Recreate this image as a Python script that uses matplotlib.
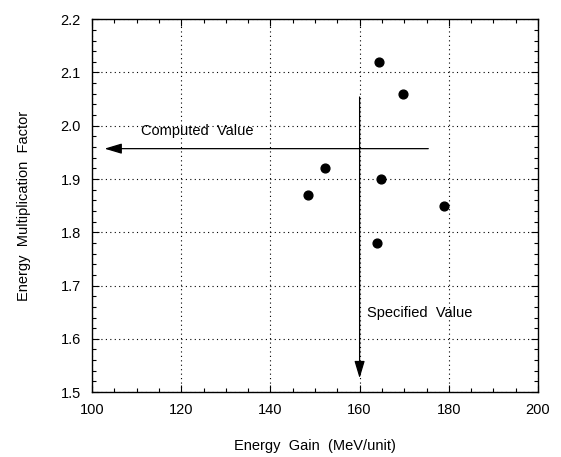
import matplotlib.pyplot as plt
from matplotlib.ticker import MultipleLocator

# measured points
energy_gain = [148.4, 152.2, 164.4, 169.7, 164.9, 163.9, 179.0]
mult_factor = [1.870, 1.920, 2.120, 2.059, 1.900, 1.779, 1.849]

computed_value = 1.957
specified_value = 160

plt.rcParams['font.family'] = ['Liberation Sans', 'DejaVu Sans']
plt.rcParams['font.size'] = 10.5

fig = plt.figure(figsize=(5.61, 4.57), dpi=100)
ax = fig.add_axes([0.164, 0.142, 0.795, 0.816])

ax.set_xlim(100, 200)
ax.set_ylim(1.5, 2.2)
ax.xaxis.set_major_locator(MultipleLocator(20))
ax.xaxis.set_minor_locator(MultipleLocator(5))
ax.yaxis.set_major_locator(MultipleLocator(0.1))
ax.yaxis.set_minor_locator(MultipleLocator(0.02))
ax.yaxis.set_major_formatter(plt.FormatStrFormatter('%.1f'))
ax.tick_params(which='both', direction='in', top=True, right=True, width=0.8)
ax.tick_params(which='major', length=5, pad=8)
ax.tick_params(which='minor', length=3)
ax.grid(True, which='major', linestyle=(0, (1, 3)), color='black', linewidth=0.8)
for s in ax.spines.values():
    s.set_linewidth(1.0)

ax.scatter(energy_gain, mult_factor, s=40, color='black', zorder=3)

arrow_style = dict(arrowstyle='-|>,head_length=1.0,head_width=0.3',
                   color='black', lw=0.9, shrinkA=0, shrinkB=0)

# computed value arrow (horizontal)
ax.annotate('', xy=(102.8, computed_value), xytext=(175.4, computed_value),
            arrowprops=arrow_style)
ax.text(111, 1.99, 'Computed  Value', va='center', ha='left')

# specified value arrow (vertical)
ax.annotate('', xy=(specified_value, 1.526), xytext=(specified_value, 2.054),
            arrowprops=arrow_style)
ax.text(161.7, 1.648, 'Specified  Value', va='center', ha='left')

ax.set_xlabel('Energy  Gain  (MeV/unit)', labelpad=16)
ax.set_ylabel('Energy  Multiplication  Factor', labelpad=21)

fig.savefig('out.png', dpi=100)
